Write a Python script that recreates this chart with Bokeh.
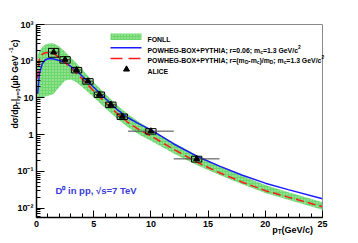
import math
from bokeh.plotting import figure
from bokeh.models import Range1d, FixedTicker, Label
from bokeh.embed import file_html
from bokeh.resources import INLINE

# ---------------- data ----------------
pt_grid = [0.1, 0.25, 0.5, 0.75, 1.0, 1.25, 1.5, 2.0, 2.5, 3.0, 3.5, 4.0, 5.0, 6.0,
           7.0, 8.0, 9.0, 10.0, 12.0, 14.0, 16.0, 18.0, 20.0, 22.0, 25.0]
fonll_hi = [140, 190, 240, 280, 300, 310, 305, 250, 180, 125, 88, 60, 27, 13,
            6.5, 3.6, 2.2, 1.4, 0.6, 0.28, 0.14, 0.075, 0.043, 0.027, 0.0146]
fonll_lo = [8.5, 9.5, 10.5, 11, 11.5, 12, 13, 20, 30, 32, 27, 20, 10.5, 5.3,
            2.8, 1.6, 1.0, 0.68, 0.31, 0.15, 0.08, 0.045, 0.026, 0.017, 0.009]
powheg_r006 = [13, 45, 85, 108, 117, 118, 115, 105, 92, 72, 55, 39, 19.5, 9.8,
               5.0, 2.9, 1.95, 1.35, 0.56, 0.26, 0.14, 0.079, 0.048, 0.032, 0.018]
powheg_rmass = [34, 110, 155, 170, 172, 168, 160, 125, 92, 66, 47, 33, 15.5, 7.6,
                3.9, 2.15, 1.35, 0.93, 0.40, 0.18, 0.092, 0.051, 0.030, 0.020, 0.011]

alice_pt = [1.5, 2.5, 3.5, 4.5, 5.5, 6.5, 7.5, 10.0, 14.0]
alice_lo_edge = [1, 2, 3, 4, 5, 6, 7, 8, 12]
alice_hi_edge = [2, 3, 4, 5, 6, 7, 8, 12, 16]
alice_val = [176, 111, 58, 28.7, 12.4, 6.6, 3.13, 1.25, 0.22]
alice_stat_rel = [0.10, 0.06, 0.05, 0.05, 0.06, 0.07, 0.09, 0.08, 0.15]
alice_sys_rel = [0.27, 0.20, 0.17, 0.17, 0.17, 0.17, 0.17, 0.17, 0.18]
box_half_width = 0.45

x_ticks = [0, 5, 10, 15, 20, 25]
y_ticks = [0.01, 0.1, 1, 10, 100, 1000]
y_tick_labels = ["10⁻²", "10⁻¹", "1", "10", "10²", "10³"]

# ---------------- geometry (canvas pixels) ----------------
X0, X1 = 0.0, 25.0
YMIN, YMAX = 0.00558, 1000.0
FL, FR, FT, FB = 36.0, 322.0, 24.0, 217.0   # axes box
LY0, LY1 = math.log10(YMIN), math.log10(YMAX)
CW, CH = 350, 235


def px2x(px):
    return X0 + (px - FL) * (X1 - X0) / (FR - FL)


def py2y(py):
    return 10 ** (LY1 - (py - FT) * (LY1 - LY0) / (FB - FT))


W = {' ': 278, '!': 333, '(': 333, ')': 333, '+': 584, ',': 278, '-': 333, '.': 278,
     '/': 278, ';': 333, '=': 584, '<': 584, '|': 280, 'σ': 600, 'µ': 611, '√': 549,
     'A': 722, 'B': 722, 'C': 722, 'D': 722, 'E': 667, 'F': 611, 'G': 778, 'H': 722,
     'I': 278, 'L': 611, 'M': 833, 'N': 722, 'O': 778, 'P': 667, 'T': 611, 'V': 667,
     'W': 944, 'X': 667, 'Y': 667, 'a': 556, 'b': 611, 'c': 556, 'd': 611, 'e': 556,
     'i': 278, 'm': 889, 'n': 611, 'p': 611, 'r': 389, 's': 556, 'y': 556}
for ch in "0123456789":
    W[ch] = 556


def tw(s, size):
    return sum(W.get(c, 556) for c in s) * size / 1000.0


FONT = "Liberation Sans"

# the plotting frame fills the whole canvas; the axes sit at fixed data locations
p = figure(width=CW, height=CH,
           x_range=Range1d(px2x(0), px2x(CW)),
           y_range=Range1d(py2y(CH), py2y(0)),
           y_axis_type="log", output_backend="svg", toolbar_location=None, title=None,
           min_border=0, min_border_left=0, min_border_right=0,
           min_border_top=0, min_border_bottom=0)
p.background_fill_color = "white"
p.border_fill_color = "white"
p.outline_line_color = None
p.xgrid.visible = False
p.ygrid.visible = False


def rich(x_px, base_px, pieces, size, color="black", angle=0.0, sub_shift=0.26):
    pos = 0.0
    for text, kind in pieces:
        s = size if kind == 'n' else 0.7 * size
        shift = 0.0
        if kind == 'sub':
            shift = sub_shift * size
        elif kind == 'sup':
            shift = -0.45 * size
        if angle == 0.0:
            xx, yy = x_px + pos, base_px + shift
        else:
            xx, yy = x_px + shift, base_px - pos
        p.add_layout(Label(x=px2x(xx), y=py2y(yy), text=text, angle=angle,
                           text_align="left", text_baseline="alphabetic",
                           text_font=FONT, text_font_style="bold",
                           text_font_size=f"{s:.2f}px", text_color=color))
        pos += tw(text, s)


BAND = "#6cd76c"

# FONLL band
p.varea(x=pt_grid, y1=fonll_lo, y2=fonll_hi, fill_color=BAND, fill_alpha=1.0,
        hatch_pattern=".", hatch_color="white", hatch_alpha=0.6, hatch_scale=3.0,
        hatch_weight=1.0)

# POWHEG curves
p.line(pt_grid, powheg_r006, line_color="#1a1aff", line_width=1.5)
p.line(pt_grid, powheg_rmass, line_color="#ff1a1a", line_width=1.5, line_dash="8 4")

# ALICE: systematic boxes, error bars, markers
box_l = [x - box_half_width for x in alice_pt]
box_r = [x + box_half_width for x in alice_pt]
box_t = [v * (1 + s) for v, s in zip(alice_val, alice_sys_rel)]
box_b = [v * (1 - s) for v, s in zip(alice_val, alice_sys_rel)]
p.quad(left=box_l, right=box_r, top=box_t, bottom=box_b, fill_color=None,
       line_color="black", line_width=1)
p.segment(x0=alice_lo_edge, x1=alice_hi_edge, y0=alice_val, y1=alice_val,
          line_color="#444444", line_width=1)
st_t = [v * (1 + s) for v, s in zip(alice_val, alice_stat_rel)]
st_b = [v * (1 - s) for v, s in zip(alice_val, alice_stat_rel)]
p.segment(x0=alice_pt, x1=alice_pt, y0=st_b, y1=st_t, line_color="#444444", line_width=1)
p.scatter(alice_pt, alice_val, marker="triangle", size=6, fill_color="black",
          line_color="black")

# top and right edges of the axes box (grey, as in the reference)
p.line([X0, X1, X1], [YMAX, YMAX, YMIN], line_color="#8a8a8a", line_width=1)

# ---------------- legend (drawn by hand) ----------------
lx0, lx1 = 110.0, 141.0
p.quad(left=[px2x(lx0)], right=[px2x(lx1)], top=[py2y(33.0)], bottom=[py2y(39.5)],
       fill_color=BAND, line_color=None, hatch_pattern=".", hatch_color="white",
       hatch_alpha=0.6, hatch_scale=3.0, hatch_weight=1.0)
p.line([px2x(lx0), px2x(lx1)], [py2y(47.3), py2y(47.3)], line_color="#1a1aff", line_width=1.5)
p.line([px2x(lx0), px2x(lx1)], [py2y(58.0), py2y(58.0)], line_color="#ff1a1a",
       line_width=1.5, line_dash="12 6")
p.scatter([px2x(126.0)], [py2y(68.8)], marker="triangle", size=6, fill_color="black",
          line_color="black")

LS = 6.9
tx = 147.0
rich(tx, 36.8 + 0.35 * LS, [("FONLL", 'n')], LS)
rich(tx, 47.3 + 0.35 * LS, [("POWHEG-BOX+PYTHIA; r=0.06; m", 'n'), ("c", 'sub'),
                           ("=1.3 GeV/c", 'n'), ("2", 'sup')], LS)
rich(tx, 57.5 + 0.35 * LS, [("POWHEG-BOX+PYTHIA; r=(m", 'n'), ("D", 'sub'), ("-m", 'n'),
                           ("c", 'sub'), (")/m", 'n'), ("D", 'sub'), ("; m", 'n'),
                           ("c", 'sub'), ("=1.3 GeV/c", 'n'), ("2", 'sup')], LS)
rich(tx, 68.3 + 0.35 * LS, [("ALICE", 'n')], LS)

# system label
rich(55.0, 190.0, [("D⁰ in pp, √s=7 TeV", 'n')], 9.5, color="#3a3ad8")

# axis titles
xt_pieces = [("p", 'n'), ("T", 'sub'), (" (GeV/c)", 'n')]
xt_size = 9.0
xt_w = sum(tw(t, xt_size if k == 'n' else 0.7 * xt_size) for t, k in xt_pieces)
rich(315.0 - xt_w, 229.5, xt_pieces, xt_size, sub_shift=0.2)

rich(14.5, 128.0, [("dσ/dp", 'n'), ("T", 'sub'), ("|", 'n'), ("y=0", 'sub'),
                   (" (µb GeV", 'n'), ("-1", 'sup'), (" c)", 'n')], 8.7, angle=math.pi / 2)

# ---------------- axes ----------------
for ax in (p.xaxis[0], p.yaxis[0]):
    ax.axis_line_color = "black"
    ax.axis_line_width = 1.5
    ax.major_tick_line_color = "black"
    ax.minor_tick_line_color = "black"
    ax.major_tick_out = 0
    ax.minor_tick_out = 0
    ax.major_label_text_font = FONT
    ax.major_label_text_font_style = "bold"
    ax.major_label_text_font_size = "9px"
    ax.major_label_text_color = "black"
    ax.major_label_standoff = 3

p.xaxis.fixed_location = YMIN
p.xaxis.bounds = (X0, X1)
p.xaxis.ticker = FixedTicker(ticks=x_ticks, minor_ticks=list(range(0, 26)))
p.xaxis.major_tick_in = 7
p.xaxis.minor_tick_in = 4

y_minor = [m * 1e-3 for m in range(6, 10)] + \
          [m * 10.0 ** e for e in range(-2, 3) for m in range(2, 10)]
p.yaxis.fixed_location = X0
p.yaxis.bounds = (YMIN, YMAX)
p.yaxis.ticker = FixedTicker(ticks=y_ticks, minor_ticks=y_minor)
p.yaxis.major_tick_in = 8
p.yaxis.minor_tick_in = 4
p.yaxis.major_label_overrides = {t: l for t, l in zip(y_ticks, y_tick_labels)}

open("out.html", "w").write(file_html(p, INLINE))
